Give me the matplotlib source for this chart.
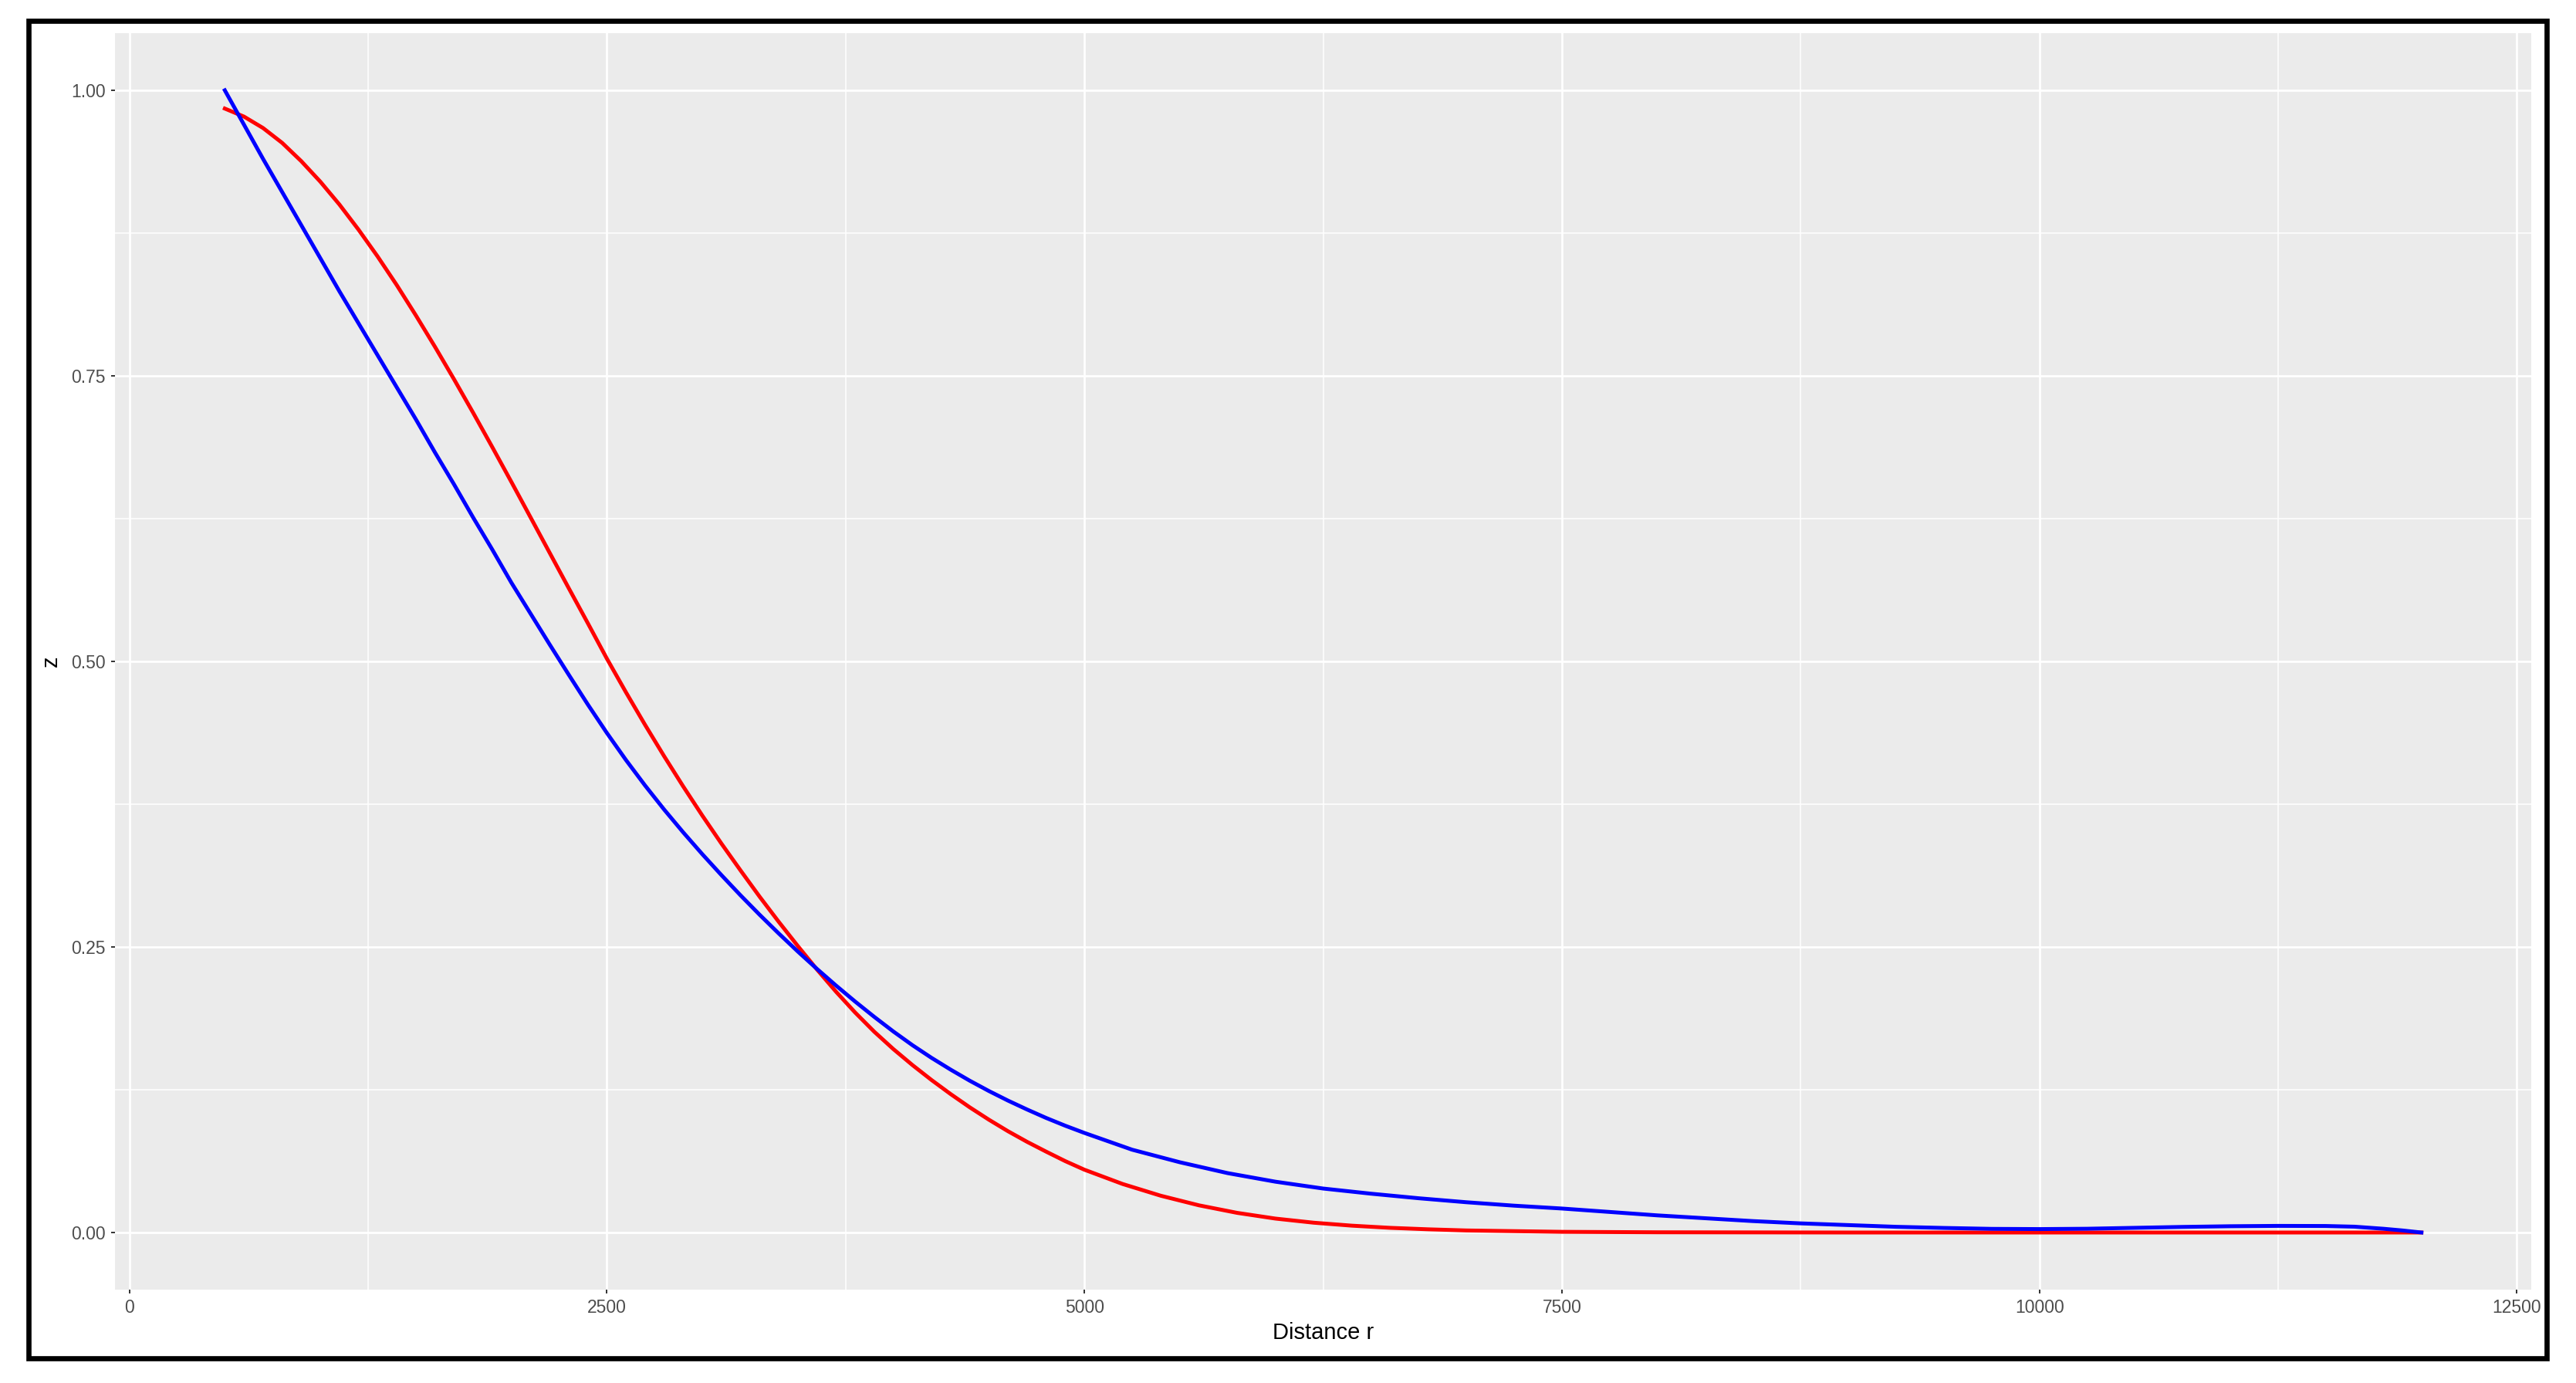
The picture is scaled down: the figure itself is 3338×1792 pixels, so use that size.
import matplotlib
matplotlib.use("Agg")
import matplotlib.pyplot as plt
from matplotlib.patches import Rectangle

# values (r step 100 where the curves bend)
red_r = [500, 600, 700, 800, 900, 1000, 1100, 1200, 1300, 1400, 1500, 1600, 1700, 1800,
         1900, 2000, 2100, 2200, 2300, 2400, 2500, 2600, 2700, 2800, 2900, 3000, 3100,
         3200, 3300, 3400, 3500, 3600, 3700, 3800, 3900, 4000, 4100, 4200, 4300, 4400,
         4500, 4600, 4700, 4800, 4900, 5000, 5200, 5400, 5600, 5800, 6000, 6200, 6400,
         6600, 6800, 7000, 7500, 8000, 9000, 10000, 11000, 12000]
red_z = [0.984, 0.977, 0.967, 0.954, 0.938, 0.920, 0.900, 0.878, 0.8545, 0.8295, 0.803,
         0.7755, 0.747, 0.7177, 0.6877, 0.6572, 0.6263, 0.5953, 0.5643, 0.5336, 0.5025,
         0.473, 0.4445, 0.417, 0.3905, 0.365, 0.3405, 0.317, 0.294, 0.272, 0.2508, 0.2303,
         0.2108, 0.1926, 0.1758, 0.1606, 0.1466, 0.1335, 0.1212, 0.1096, 0.0988, 0.0887,
         0.0794, 0.0708, 0.0625, 0.055, 0.0425, 0.0322, 0.0238, 0.0172, 0.0122, 0.0086,
         0.006, 0.0041, 0.0028, 0.0018, 0.0006, 0.0002, 0.0, 0.0, 0.0, 0.0]

blue_r = [500, 600, 700, 800, 900, 1000, 1100, 1200, 1300, 1400, 1500, 1600, 1700, 1800,
          1900, 2000, 2100, 2200, 2300, 2400, 2500, 2600, 2700, 2800, 2900, 3000, 3100,
          3200, 3300, 3400, 3500, 3600, 3700, 3800, 3900, 4000, 4100, 4200, 4300, 4400,
          4500, 4600, 4700, 4800, 4900, 5000, 5250, 5500, 5750, 6000, 6250, 6500, 6750,
          7000, 7250, 7500, 7750, 8000, 8250, 8500, 8750, 9000, 9250, 9500, 9750, 10000,
          10250, 10500, 10750, 11000, 11250, 11500, 11650, 11800, 11900, 12000]
blue_z = [1.0, 0.970, 0.940, 0.911, 0.882, 0.853, 0.824, 0.796, 0.768, 0.740, 0.712,
          0.683, 0.655, 0.626, 0.598, 0.569, 0.542, 0.515, 0.4885, 0.4624, 0.4374, 0.4137,
          0.3914, 0.3703, 0.3503, 0.3312, 0.3129, 0.2952, 0.2782, 0.2618, 0.246, 0.2308,
          0.2162, 0.2022, 0.1888, 0.176, 0.164, 0.1529, 0.1426, 0.1329, 0.1239, 0.1155,
          0.1077, 0.1003, 0.0935, 0.0872, 0.0725, 0.0615, 0.052, 0.0445, 0.0385, 0.034,
          0.030, 0.0265, 0.0235, 0.021, 0.018, 0.015, 0.0125, 0.010, 0.008, 0.0065, 0.005,
          0.004, 0.0032, 0.003, 0.0033, 0.0041, 0.0049, 0.0055, 0.0058, 0.0057, 0.0051,
          0.0033, 0.0018, 0.0]

x_ticks = [0, 2500, 5000, 7500, 10000, 12500]
x_minor = [1250, 3750, 6250, 8750, 11250]
y_ticks = [0.0, 0.25, 0.50, 0.75, 1.00]
y_minor = [0.125, 0.375, 0.625, 0.875]
y_ticklabels = ["0.00", "0.25", "0.50", "0.75", "1.00"]

plt.rcParams['font.family'] = ['Liberation Sans', 'DejaVu Sans']

W, H = 3338, 1792
fig = plt.figure(figsize=(W / 100, H / 100), dpi=100)
fig.patch.set_facecolor('white')

# panel placement in pixels
left, right, top, bottom = 149, 3280, 43, 1671
ax = fig.add_axes([left / W, 1 - bottom / H, (right - left) / W, (bottom - top) / H])
ax.set_facecolor('#EBEBEB')
for s in ax.spines.values():
    s.set_visible(False)

xmin, xmax = min(red_r + blue_r), max(red_r + blue_r)
pad = 0.05 * (xmax - xmin)
ax.set_xlim(xmin - pad, xmax + pad)
ax.set_ylim(-0.05, 1.05)

ax.set_xticks(x_ticks)
ax.set_xticks(x_minor, minor=True)
ax.set_yticks(y_ticks)
ax.set_yticks(y_minor, minor=True)
ax.set_yticklabels(y_ticklabels)
ax.grid(which='major', color='white', linewidth=2.0)
ax.grid(which='minor', color='white', linewidth=1.1)
ax.set_axisbelow(True)
ax.tick_params(which='major', direction='out', length=3.6, width=1.4, color='#333333',
               labelsize=16.5, labelcolor='#4D4D4D', pad=5)
ax.tick_params(which='minor', length=0)

ax.plot(red_r, red_z, color='#FF0000', linewidth=3.6, solid_joinstyle='round')
ax.plot(blue_r, blue_z, color='#0000FF', linewidth=3.6, solid_joinstyle='round')

fig.text((left + right) / 2 / W, 1 - 1727 / H, 'Distance r', ha='center', va='center',
         fontsize=21, color='black')
fig.text(66 / W, 1 - 857 / H, 'z', ha='center', va='center', rotation=90,
         fontsize=21, color='black')

# black frame around the whole picture
fig.patches.append(Rectangle((36.5 / W, 1 - 1760 / H), (3300 - 36.5) / W, (1760 - 27.5) / H,
                             transform=fig.transFigure, fill=False, edgecolor='black',
                             linewidth=4.8))

fig.savefig('out.png', dpi=100)
